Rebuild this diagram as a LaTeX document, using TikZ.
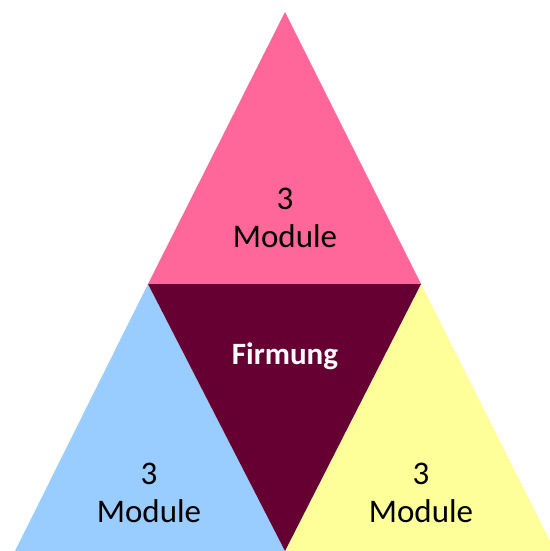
\documentclass[tikz,border=0pt]{standalone}
\usepackage{fontspec}
\setmainfont{Carlito}
\definecolor{cpink}{HTML}{FF6699}
\definecolor{cdark}{HTML}{660033}
\definecolor{cblue}{HTML}{99CCFF}
\definecolor{cyellow}{HTML}{FFFF99}
\begin{document}
\begin{tikzpicture}[x=1pt,y=-1pt,
  lbl/.style={anchor=base,font=\fontsize{33}{38}\selectfont,text=black,inner sep=0pt},
  flbl/.style={anchor=base,font=\fontsize{31}{36}\selectfont\bfseries,text=white,inner sep=0pt}]
\useasboundingbox (0,0) rectangle (549,551);
\coordinate (A) at (285,12);
\coordinate (ML) at (148,284);
\coordinate (MR) at (421,284);
\coordinate (BL) at (15,551);
\coordinate (BM) at (285,551);
\coordinate (BR) at (555,551);
\fill[cpink] (A) -- (ML) -- (MR) -- cycle;
\fill[cblue] (ML) -- (BL) -- (BM) -- cycle;
\fill[cyellow] (MR) -- (BM) -- (BR) -- cycle;
\fill[cdark] (ML) -- (MR) -- (BM) -- cycle;
\node[lbl] (t1) at (285,209) {3};
\node[lbl] (t2) at (285,247) {Module};
\node[lbl] (l1) at (149,484) {3};
\node[lbl] (l2) at (149,522) {Module};
\node[lbl] (r1) at (421,484) {3};
\node[lbl] (r2) at (421,522) {Module};
\node[flbl] (f) at (285,364) {Firmung};
\end{tikzpicture}
\end{document}
